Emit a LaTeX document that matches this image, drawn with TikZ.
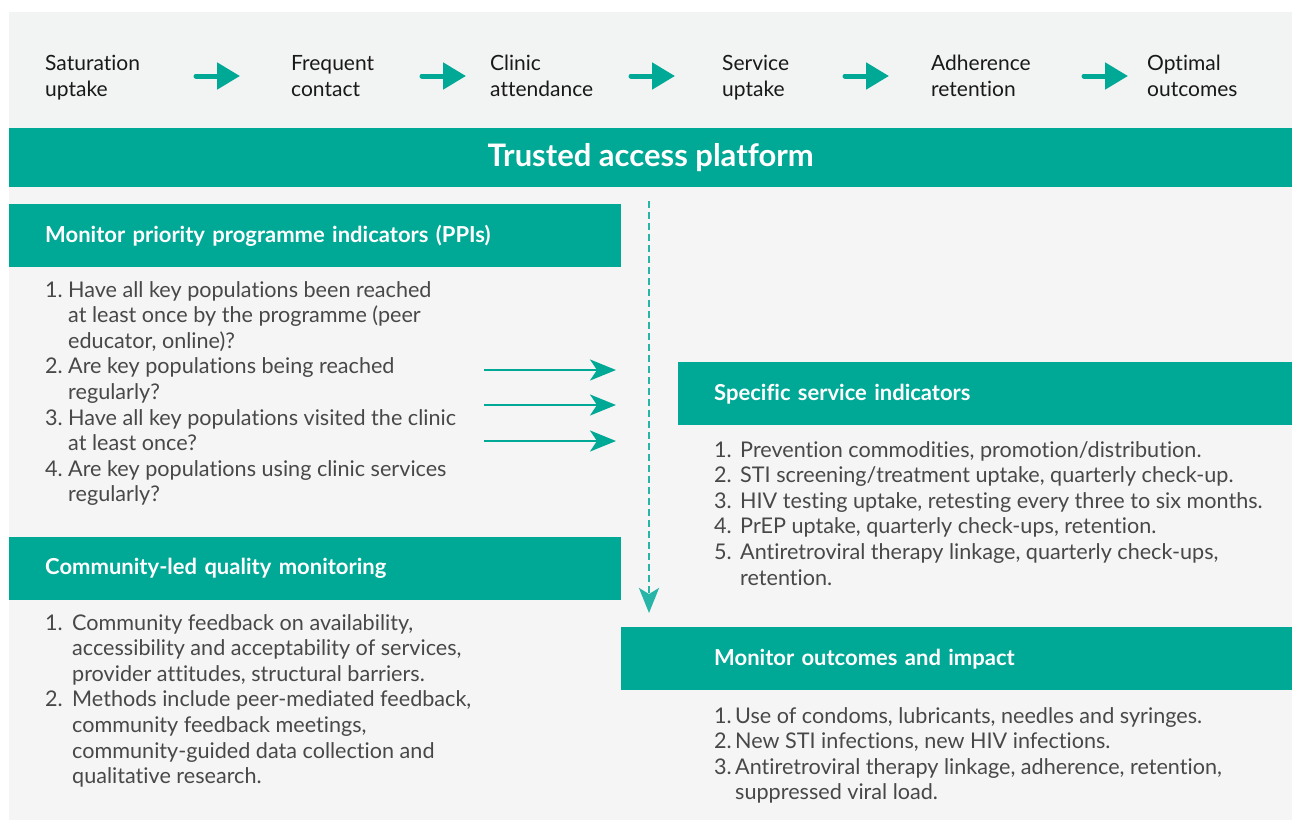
\documentclass[tikz,border=0pt]{standalone}
\usepackage{fontspec}
\setmainfont{Lato}[Ligatures=NoCommon]
\usetikzlibrary{arrows.meta}

\definecolor{platteal}{RGB}{0,168,150}
\definecolor{bandgray}{RGB}{242,243,243}
\definecolor{panelgray}{RGB}{245,245,245}
\definecolor{bodygray}{RGB}{72,72,72}

% numbered list: width of number column, rows
\newcommand{\numlist}[2]{\begin{tabular}[t]{@{}p{#1}@{}l@{}}#2\end{tabular}}

\begin{document}
\begin{tikzpicture}[x=1pt,y=-1pt]
\tikzstyle{step label}=[anchor=base west,align=left,inner sep=0pt,text=black!90,font=\fontsize{21}{26}\selectfont];
\tikzstyle{hdr}=[anchor=north west,fill=platteal,text=white,font=\bfseries\fontsize{22}{26}\selectfont,minimum height=63pt,inner xsep=36pt,inner ysep=0pt,align=left];
\tikzstyle{lst}=[anchor=base west,inner sep=0pt,text=bodygray,font=\fontsize{21.6}{25.6}\selectfont];
\tikzstyle{flow}=[-{Triangle[length=23pt,width=26pt]},line width=5pt,line cap=round,platteal];
\tikzstyle{feed}=[-{Stealth[length=26pt,width=21pt,inset=7pt]},line width=2.5pt,platteal];
\tikzstyle{down}=[-{Stealth[length=25pt,width=20pt,inset=6pt]},line width=2.5pt,dash pattern=on 7pt off 4pt,platteal!85];

\useasboundingbox (0,0) rectangle (1292,820);
\fill[panelgray] (9,12) rectangle (1292,820);
\fill[bandgray] (9,12) rectangle (1292,128);

% steps
\node [step label] (sat) at (45,96) {Saturation\\uptake};
\node [step label] (freq) at (291,96) {Frequent\\contact};
\node [step label] (clin) at (490,96) {Clinic\\attendance};
\node [step label] (serv) at (722,96) {Service\\uptake};
\node [step label] (adh) at (931,96) {Adherence\\retention};
\node [step label] (opt) at (1147,96) {Optimal\\outcomes};

\coordinate (f1a) at (196,76); \coordinate (f1b) at (240,76);
\coordinate (f2a) at (422,76); \coordinate (f2b) at (466,76);
\coordinate (f3a) at (631,76); \coordinate (f3b) at (675,76);
\coordinate (f4a) at (845,76); \coordinate (f4b) at (889,76);
\coordinate (f5a) at (1084,76); \coordinate (f5b) at (1128,76);
\draw [flow] (f1a) -- (f1b);
\draw [flow] (f2a) -- (f2b);
\draw [flow] (f3a) -- (f3b);
\draw [flow] (f4a) -- (f4b);
\draw [flow] (f5a) -- (f5b);

% platform
\node [fill=platteal,text=white,font=\bfseries\fontsize{31}{36}\selectfont,minimum width=1283pt,minimum height=59pt,inner sep=0pt,anchor=north west] (plat) at (9,128) {Trusted access platform};

% headers
\node [hdr,text width=540pt] (ppi) at (9,204) {Monitor priority programme indicators (PPIs)};
\node [hdr,text width=540pt] (clm) at (9,537) {Community-led quality monitoring};
\node [hdr,text width=542pt] (ssi) at (678,362) {Specific service indicators};
\node [hdr,text width=599pt] (moi) at (621,627) {\hspace*{57pt}Monitor outcomes and impact};

% lists
\node [lst] (ppilist) at (45,297) {\numlist{23pt}{
1. & Have all key populations been reached\\
   & at least once by the programme (peer\\
   & educator, online)?\\
2. & Are key populations being reached\\
   & regularly?\\
3. & Have all key populations visited the clinic\\
   & at least once?\\
4. & Are key populations using clinic services\\
   & regularly?}};
\node [lst] (clmlist) at (45,630) {\numlist{27pt}{
1. & Community feedback on availability,\\
   & accessibility and acceptability of services,\\
   & provider attitudes, structural barriers.\\
2. & Methods include peer-mediated feedback,\\
   & community feedback meetings,\\
   & community-guided data collection and\\
   & qualitative research.}};
\node [lst] (ssilist) at (714,457) {\numlist{26pt}{
1. & Prevention commodities, promotion/distribution.\\
2. & STI screening/treatment uptake, quarterly check-up.\\
3. & HIV testing uptake, retesting every three to six months.\\
4. & PrEP uptake, quarterly check-ups, retention.\\
5. & Antiretroviral therapy linkage, quarterly check-ups,\\
   & retention.}};
\node [lst] (moilist) at (714,723) {\numlist{21pt}{
1. & Use of condoms, lubricants, needles and syringes.\\
2. & New STI infections, new HIV infections.\\
3. & Antiretroviral therapy linkage, adherence, retention,\\
   & suppressed viral load.}};

% arrows between panels
\coordinate (p1) at (484,370); \coordinate (q1) at (616,370);
\coordinate (p2) at (484,405); \coordinate (q2) at (616,405);
\coordinate (p3) at (484,441); \coordinate (q3) at (616,441);
\draw [feed] (p1) -- (q1);
\draw [feed] (p2) -- (q2);
\draw [feed] (p3) -- (q3);

\coordinate (dtop) at (649,201);
\coordinate (dbot) at (649,613);
\draw [down] (dtop) -- (dbot);
\end{tikzpicture}
\end{document}
